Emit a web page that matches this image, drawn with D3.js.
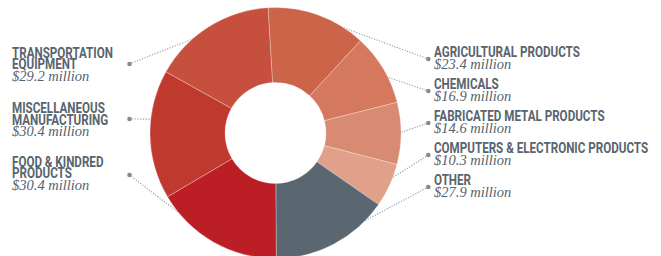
<!DOCTYPE html>
<html><head><meta charset="utf-8">
<script src="https://cdn.jsdelivr.net/npm/d3@7"></script>
<style>
html,body{margin:0;padding:0;background:#fff;}
svg{display:block;}
.nm{font-family:"Roboto","Liberation Sans",sans-serif;font-weight:700;font-size:14px;fill:#58646e;}
.vl{font-family:"Liberation Serif","DejaVu Serif",serif;font-style:italic;font-size:14.5px;fill:#56626c;}
</style></head><body>
<svg id="c" width="661" height="256"></svg>
<script>
// Data (clockwise from top)
const categories = ["AGRICULTURAL PRODUCTS","CHEMICALS","FABRICATED METAL PRODUCTS","COMPUTERS & ELECTRONIC PRODUCTS","OTHER","FOOD & KINDRED PRODUCTS","MISCELLANEOUS MANUFACTURING","TRANSPORTATION EQUIPMENT"];
const values = [23.4, 16.9, 14.6, 10.3, 27.9, 30.4, 30.4, 29.2];
const valueLabels = ["$23.4 million","$16.9 million","$14.6 million","$10.3 million","$27.9 million","$30.4 million","$30.4 million","$29.2 million"];
const nameLines = [["AGRICULTURAL PRODUCTS"],["CHEMICALS"],["FABRICATED METAL PRODUCTS"],["COMPUTERS & ELECTRONIC PRODUCTS"],["OTHER"],["FOOD & KINDRED","PRODUCTS"],["MISCELLANEOUS","MANUFACTURING"],["TRANSPORTATION","EQUIPMENT"]];
const colors = ["#cc644a","#d4785e","#d98a72","#e0a089","#5b6770","#bb1e24","#c0392e","#c74f3d"];
const sides = ["right","right","right","right","right","left","left","left"];
// where each leader line meets the ring (fraction of the slice's angular span)
const leaderFrac = [0.59,0.59,0.5,0.4,0.26,0.72,0.62,0.41];

const svg = d3.select("#c");
const cx = 275.5, cy = 133, rOuter = 125.5, rInner = 50.5;
const startA = -3.4*Math.PI/180;

const pie = d3.pie().sort(null).value(d=>d).startAngle(startA).endAngle(startA+2*Math.PI);
const arcs = pie(values);
const arc = d3.arc().innerRadius(rInner).outerRadius(rOuter);

// label layout
const rightY = d3.scaleLinear().domain([0,4]).range([57,185]);
const leftY = d3.scaleOrdinal().domain([5,6,7]).range([166.5,113.2,57.5]);
const leftDotY = d3.scaleOrdinal().domain([5,6,7]).range([175,119,64]);

const gLead = svg.append("g");
const gPie = svg.append("g").attr("transform",`translate(${cx},${cy})`);
const gLab = svg.append("g");

// condensed look: uniform horizontal compression of the bold sans
const probe = gLab.append("text").attr("class","nm").text("AGRICULTURAL PRODUCTS");
const squeeze = 146 / probe.node().getComputedTextLength();
probe.remove();

arcs.forEach((a,i)=>{
  const right = sides[i]==="right";
  const y0 = right ? rightY(i) : leftY(i);
  const nLines = nameLines[i].length;
  const dotX = right ? 428.3 : 129.5;
  const dotY = right ? y0 + 2 : leftDotY(i);
  const ang = a.startAngle + (a.endAngle-a.startAngle)*leaderFrac[i];
  const ex = cx + Math.sin(ang)*(rOuter-3), ey = cy - Math.cos(ang)*(rOuter-3);
  gLead.append("line").attr("x1",dotX).attr("y1",dotY).attr("x2",ex).attr("y2",ey)
    .attr("stroke","#8d9ca7").attr("stroke-width",1.1).attr("stroke-dasharray","1.2,1.5");
  gLead.append("circle").attr("cx",dotX).attr("cy",dotY).attr("r",2.3).attr("fill","#7e8b95");
  const tx = right ? 434 : 12;
  nameLines[i].forEach((ln,k)=>{
    gLab.append("text").attr("class","nm")
      .attr("transform",`translate(${tx},${y0+k*11.4}) scale(${squeeze},1)`)
      .text(ln);
  });
  gLab.append("text").attr("class","vl").attr("x",tx).attr("y",y0+(nLines-1)*11.4+11.8).text(valueLabels[i]);
});

gPie.selectAll("path").data(arcs).join("path")
  .attr("d",arc).attr("fill",(d,i)=>colors[i])
  .attr("stroke","#ffffff").attr("stroke-opacity",0.35).attr("stroke-width",0.8);
</script>
</body></html>
